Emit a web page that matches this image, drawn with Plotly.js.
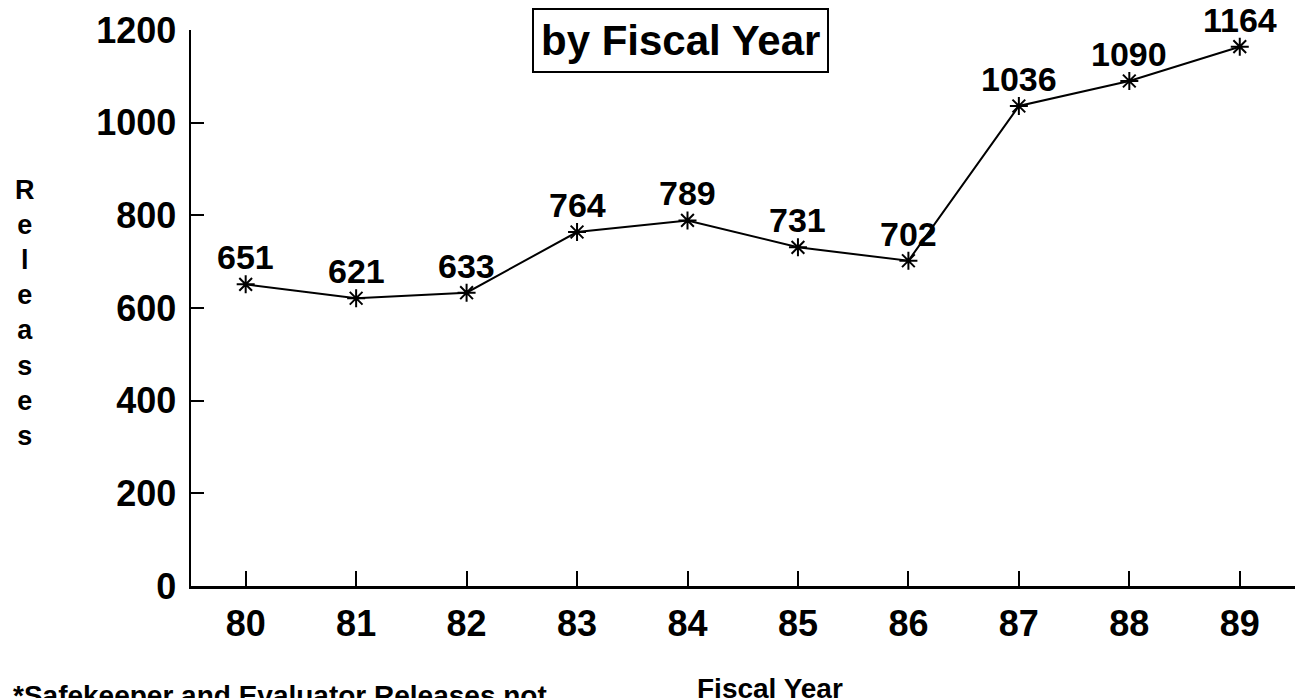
<!DOCTYPE html>
<html>
<head>
<meta charset="utf-8">
<script src="https://cdn.plot.ly/plotly-3.0.1.min.js"></script>
<style>
  html, body { margin: 0; padding: 0; background: #fff; }
  #chart { width: 1296px; height: 698px; }
</style>
</head>
<body>
<div id="chart"></div>
<script>
const years = [80, 81, 82, 83, 84, 85, 86, 87, 88, 89];
const yearLabels = ["80", "81", "82", "83", "84", "85", "86", "87", "88", "89"];
const releases = [651, 621, 633, 764, 789, 731, 702, 1036, 1090, 1164];
const yTicks = [0, 200, 400, 600, 800, 1000, 1200];

const FONT = "Liberation Sans, Arial, Helvetica, sans-serif";

const trace = {
  x: years,
  y: releases,
  type: "scatter",
  mode: "lines+markers",
  line: { color: "#000", width: 2 },
  marker: { symbol: "asterisk-open", size: 15, color: "#000", line: { color: "#000", width: 2 } },
  hoverinfo: "skip"
};

const annotations = releases.map((v, i) => ({
  x: years[i], y: v, xref: "x", yref: "y",
  text: String(v), showarrow: false, yshift: 27, yanchor: "middle",
  font: { family: FONT, size: 34, color: "#000", weight: "bold" }
}));

annotations.push({
  xref: "paper", yref: "paper", x: 0.443, y: 0.982, xanchor: "center", yanchor: "middle",
  text: "by Fiscal Year", showarrow: false,
  font: { family: FONT, size: 42, color: "#000", weight: "bold" },
  bordercolor: "#000", borderwidth: 2, borderpad: 7, bgcolor: "#fff"
});

annotations.push({
  xref: "paper", yref: "paper", x: -0.15, y: 0.491, xanchor: "center", yanchor: "middle",
  text: "R<br>e<br>l<br>e<br>a<br>s<br>e<br>s", showarrow: false, align: "center",
  font: { family: FONT, size: 27, color: "#000", weight: "bold" }
});

annotations.push({
  xref: "paper", yref: "paper", x: 0.4565, y: -0.153, xanchor: "left", yanchor: "top",
  text: "Fiscal Year", showarrow: false,
  font: { family: FONT, size: 28, color: "#000", weight: "bold" }
});

annotations.push({
  xref: "paper", yref: "paper", x: -0.163, y: -0.1655, xanchor: "left", yanchor: "top",
  text: "*Safekeeper and Evaluator Releases not", showarrow: false,
  font: { family: FONT, size: 28, color: "#000", weight: "bold" }
});

const layout = {
  width: 1296, height: 698,
  margin: { l: 191, r: 1, t: 30, b: 112 },
  paper_bgcolor: "#fff", plot_bgcolor: "#fff",
  showlegend: false,
  xaxis: {
    range: [79.505, 89.5],
    tickvals: years, ticktext: yearLabels,
    ticks: "inside", ticklen: 15, tickwidth: 2, tickcolor: "#000",
    showline: true, linecolor: "#000", linewidth: 2.5,
    showgrid: false, zeroline: false,
    ticklabelstandoff: 4,
    tickfont: { family: FONT, size: 36, color: "#000", weight: "bold" }
  },
  yaxis: {
    range: [0, 1200],
    tickvals: yTicks,
    ticks: "inside", ticklen: 13, tickwidth: 2, tickcolor: "#000",
    showline: true, linecolor: "#000", linewidth: 2.5,
    showgrid: false, zeroline: false,
    ticklabelstandoff: 5,
    tickfont: { family: FONT, size: 36, color: "#000", weight: "bold" }
  },
  annotations: annotations
};

Plotly.newPlot("chart", [trace], layout, { displayModeBar: false, staticPlot: true });
</script>
</body>
</html>
